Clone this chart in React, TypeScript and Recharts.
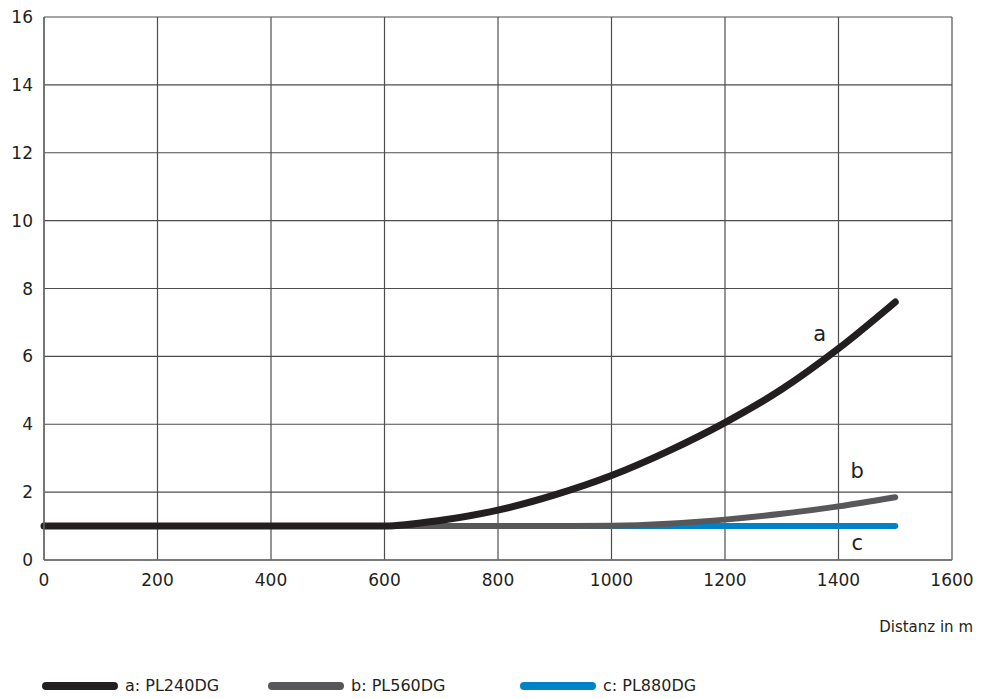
import React from "react";
import {
  LineChart,
  Line,
  XAxis,
  YAxis,
  CartesianGrid,
  ReferenceDot,
} from "recharts";

// distance in m
const distances = [0, 100, 200, 300, 400, 500, 600, 700, 800, 900, 1000, 1100, 1200, 1300, 1400, 1500];
// a: PL240DG
const seriesA = [1, 1, 1, 1, 1, 1, 1, 1.17, 1.47, 1.92, 2.49, 3.21, 4.05, 5.03, 6.23, 7.6];
// b: PL560DG
const seriesB = [1, 1, 1, 1, 1, 1, 1, 1, 1, 1, 1.01, 1.07, 1.19, 1.36, 1.58, 1.85];
// c: PL880DG
const seriesC = [1, 1, 1, 1, 1, 1, 1, 1, 1, 1, 1, 1, 1, 1, 1, 1];

const xTicks = [0, 200, 400, 600, 800, 1000, 1200, 1400, 1600];
const yTicks = [0, 2, 4, 6, 8, 10, 12, 14, 16];

const curveLabels = ["a", "b", "c"];
const curveLabelX = [1367, 1433, 1433];
const curveLabelY = [6.68, 2.65, 0.5];

const legendNames = ["a: PL240DG", "b: PL560DG", "c: PL880DG"];
const colors = ["#231f20", "#58585a", "#0082c9"];

const chartData = distances.map((d, i) => ({
  distance: d,
  a: seriesA[i],
  b: seriesB[i],
  c: seriesC[i],
}));

const FONT = "'DejaVu Sans', sans-serif";
const TEXT = "#231f20";

const AxisTitle = (props: any) => {
  const vb = props.viewBox || {};
  return (
    <text
      x={vb.x + vb.width + 21}
      y={627}
      textAnchor="end"
      dominantBaseline="central"
      fontSize={15}
      fontFamily={FONT}
      fill={TEXT}
    >
      Distanz in m
    </text>
  );
};

export default function App() {
  return (
    <div style={{ position: "absolute", left: 0, top: 0, width: 981, height: 699, background: "#fff" }}>
      <LineChart
        width={981}
        height={699}
        data={chartData}
        margin={{ top: 17, right: 29, left: 0, bottom: 0 }}
      >
        <CartesianGrid stroke="#4d4d4d" strokeWidth={1.2} />
        <XAxis
          dataKey="distance"
          type="number"
          domain={[0, 1600]}
          ticks={xTicks}
          height={139}
          tickLine={false}
          tickSize={0}
          tickMargin={14}
          axisLine={{ stroke: "#6d6d6d", strokeWidth: 1.5 }}
          tick={{ fontSize: 17, fontFamily: FONT, fill: TEXT }}
          label={<AxisTitle />}
        />
        <YAxis
          type="number"
          domain={[0, 16]}
          ticks={yTicks}
          width={44}
          tickLine={false}
          tickSize={0}
          tickMargin={11}
          axisLine={{ stroke: "#6d6d6d", strokeWidth: 1.5 }}
          tick={{ fontSize: 17, fontFamily: FONT, fill: TEXT }}
        />
        <Line
          dataKey="c"
          type="monotone"
          stroke={colors[2]}
          strokeWidth={6}
          strokeLinecap="round"
          dot={false}
          activeDot={false}
          isAnimationActive={false}
        />
        <Line
          dataKey="b"
          type="monotone"
          stroke={colors[1]}
          strokeWidth={6}
          strokeLinecap="round"
          dot={false}
          activeDot={false}
          isAnimationActive={false}
        />
        <Line
          dataKey="a"
          type="monotone"
          stroke={colors[0]}
          strokeWidth={7}
          strokeLinecap="round"
          dot={false}
          activeDot={false}
          isAnimationActive={false}
        />
        {curveLabels.map((l, i) => (
          <ReferenceDot
            key={l}
            x={curveLabelX[i]}
            y={curveLabelY[i]}
            r={0}
            stroke="none"
            fill="none"
            label={{
              value: l,
              position: "center",
              fontSize: 21,
              fontFamily: FONT,
              fill: TEXT,
            }}
          />
        ))}
      </LineChart>
      {legendNames.map((name, i) => (
        <div
          key={name}
          style={{
            position: "absolute",
            left: [42, 268, 520][i],
            top: 676,
            display: "flex",
            alignItems: "center",
            fontFamily: FONT,
            fontSize: 16,
            color: TEXT,
            whiteSpace: "nowrap",
          }}
        >
          <span
            style={{
              display: "inline-block",
              width: 76,
              height: 8,
              borderRadius: 4,
              background: colors[i],
              marginRight: 7,
            }}
          />
          {name}
        </div>
      ))}
    </div>
  );
}
